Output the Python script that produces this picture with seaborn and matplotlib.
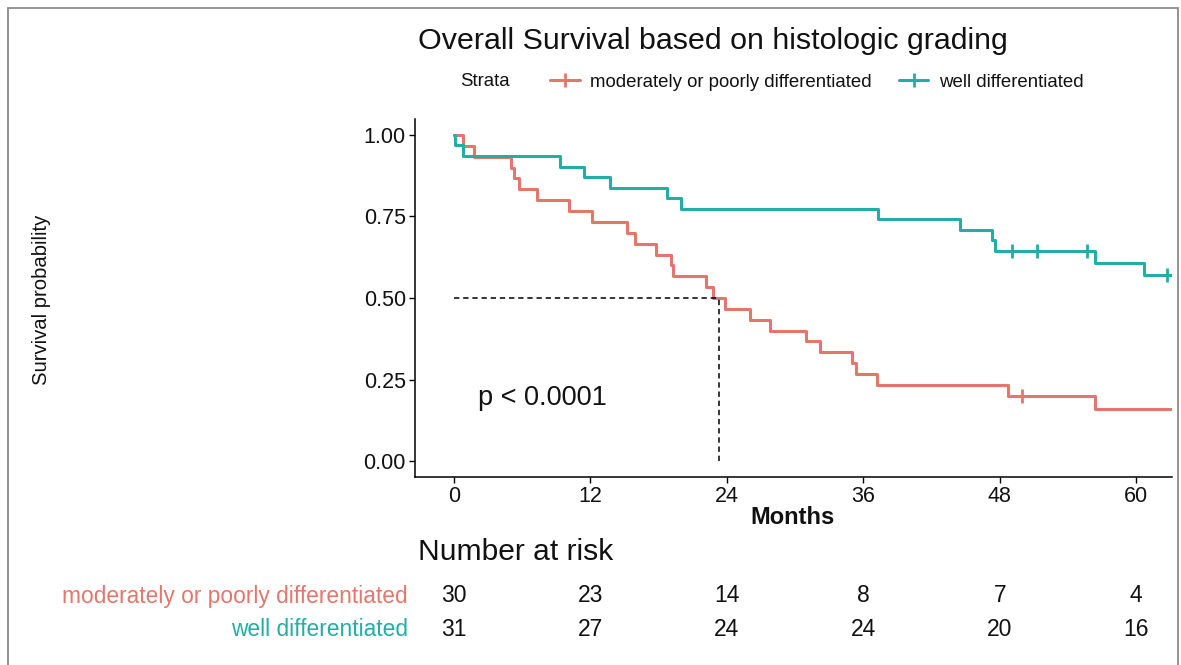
import numpy as np
import pandas as pd
import matplotlib
matplotlib.use("Agg")
import matplotlib.pyplot as plt
import seaborn as sns
from matplotlib.lines import Line2D
from matplotlib.patches import Rectangle
from matplotlib.transforms import blended_transform_factory

# ---- data (months) -------------------------------------------------------
strata = ["moderately or poorly differentiated", "well differentiated"]
strata_colors = ["#E5766C", "#23ADA6"]

mod_event_months = [0.8, 1.8, 5.0, 5.3, 5.7, 7.3, 10.1, 12.1, 15.2, 15.9,
                    17.8, 19.1, 19.3, 22.2, 22.8, 23.8, 26.0, 27.8, 31.0,
                    32.2, 35.0, 35.4, 37.2, 48.7, 56.4]
mod_censor_months = [50.0, 63.5, 63.5, 63.5, 63.5]

well_event_months = [0.1, 0.8, 9.3, 11.4, 13.7, 18.7, 20.0, 37.3, 44.5,
                     47.3, 47.6, 56.4, 60.7]
well_censor_months = [49.1, 51.3, 55.7, 62.7] + [63.5] * 14

risk_times = [0, 12, 24, 36, 48, 60]
y_ticks = [0.0, 0.25, 0.50, 0.75, 1.00]
p_value_label = "p < 0.0001"


def kaplan_meier(events, censored):
    """Product-limit estimate; returns step table and censor points."""
    times = np.array(list(events) + list(censored), dtype=float)
    died = np.array([1] * len(events) + [0] * len(censored))
    surv = 1.0
    steps = [(0.0, 1.0)]
    cens = []
    for t in np.unique(times):
        at = times == t
        n_risk = (times >= t).sum()
        d = died[at].sum()
        if d:
            surv *= 1.0 - d / n_risk
        steps.append((t, surv))
        if (died[at] == 0).any():
            cens.append((t, surv))
    return steps, cens, times


def median_time(steps):
    ts = [t for t, _ in steps]
    ss = [s for _, s in steps]
    for i, (t, s) in enumerate(zip(ts, ss)):
        if np.isclose(s, 0.5):
            nxt = next((ts[j] for j in range(i + 1, len(ts)) if ss[j] < s - 1e-9), t)
            return (t + nxt) / 2.0
        if s < 0.5:
            return t
    return None


curve_rows, cens_rows, follow_up = [], [], {}
for name, ev, ce in [(strata[0], mod_event_months, mod_censor_months),
                     (strata[1], well_event_months, well_censor_months)]:
    steps, cens, times = kaplan_meier(ev, ce)
    follow_up[name] = times
    curve_rows += [{"month": t, "surv": s, "strata": name} for t, s in steps]
    cens_rows += [{"month": t, "surv": s, "strata": name} for t, s in cens]
curves = pd.DataFrame(curve_rows)
censors = pd.DataFrame(cens_rows)
mod_steps = list(zip(curves.loc[curves.strata == strata[0], "month"],
                     curves.loc[curves.strata == strata[0], "surv"]))
t_median = median_time(mod_steps)

# ---- figure ---------------------------------------------------------------
sns.set_theme(style="white")
plt.rcParams["font.family"] = ["Liberation Sans", "DejaVu Sans"]
ink = "#111111"

W, H = 1181, 665
fig = plt.figure(figsize=(W / 100, H / 100), dpi=100)
fig.patch.set_facecolor("white")


def fx(px):
    return px / W


def fy(py):
    return 1 - py / H


fig.add_artist(Rectangle((fx(8), fy(690)), fx(1178) - fx(8), fy(8) - fy(690),
                         transform=fig.transFigure, fill=False,
                         edgecolor="#8a8a8a", lw=1.3))

ax = fig.add_axes([fx(415), fy(477), fx(1172) - fx(415), fy(119) - fy(477)])
palette = dict(zip(strata, strata_colors))

sns.lineplot(data=curves, x="month", y="surv", hue="strata", hue_order=strata,
             palette=palette, drawstyle="steps-post", estimator=None,
             sort=True, lw=2.2, legend=False, ax=ax)
sns.scatterplot(data=censors, x="month", y="surv", hue="strata",
                hue_order=strata, palette=palette, marker="+", s=100,
                linewidth=2.0, legend=False, ax=ax, zorder=3)

# median survival guide
if t_median is not None:
    ax.plot([0, t_median], [0.5, 0.5], ls=(0, (3.5, 2.5)), color="black", lw=1.1)
    ax.plot([t_median, t_median], [0, 0.5], ls=(0, (3.5, 2.5)), color="black", lw=1.1)

ax.text(2.1, 0.193, p_value_label, fontsize=19.5, ha="left", va="center",
        color=ink)

ax.set_xlim(-3.43, 63.15)
ax.set_ylim(-0.049, 1.049)
ax.set_xticks(risk_times)
ax.set_yticks(y_ticks)
ax.set_yticklabels([f"{v:.2f}" for v in y_ticks])
ax.tick_params(axis="both", labelsize=15.5, length=4.5, width=1.0,
               color="black", labelcolor=ink, pad=2, direction="out")
ax.tick_params(axis="x", bottom=True)
ax.tick_params(axis="y", left=True)
for side in ["top", "right"]:
    ax.spines[side].set_visible(False)
for side in ["left", "bottom"]:
    ax.spines[side].set_color("black")
    ax.spines[side].set_linewidth(1.1)
ax.set_xlabel("")
ax.set_ylabel("")

fig.text(fx(792), fy(517), "Months", fontsize=17, fontweight="bold",
         ha="center", va="center", color=ink)
fig.text(fx(42), fy(300), "Survival probability", fontsize=14.6,
         rotation=90, ha="center", va="center", color=ink)
fig.text(fx(418), fy(41), "Overall Survival based on histologic grading",
         fontsize=21.9, ha="left", va="center", color=ink)

# legend row
fig.text(fx(460), fy(82), "Strata", fontsize=13.4, ha="left", va="center",
         color=ink)
handles = [Line2D([], [], color=c, lw=2.2, marker="+", markersize=10,
                  markeredgewidth=2.0) for c in strata_colors]
leg = fig.legend(handles, strata, loc="center left",
                 bbox_to_anchor=(fx(550), fy(82)), ncol=2, frameon=False,
                 fontsize=13.4, handlelength=1.6, handletextpad=0.55,
                 columnspacing=1.45, borderaxespad=0, borderpad=0)
for txt in leg.get_texts():
    txt.set_color(ink)

# number-at-risk table
fig.text(fx(418), fy(552), "Number at risk", fontsize=21.6, ha="left",
         va="center", color=ink)
tr = blended_transform_factory(ax.transData, fig.transFigure)
for row_y, name, col in zip([596, 630], strata, strata_colors):
    fig.text(fx(408), fy(row_y), name, color=col, fontsize=16.4,
             ha="right", va="center")
    times = follow_up[name]
    for t in risk_times:
        n = int((times >= t).sum())
        ax.text(t, fy(row_y), str(n), transform=tr, fontsize=16.5,
                ha="center", va="center", color=ink, clip_on=False)

fig.savefig("out.png", dpi=100)
